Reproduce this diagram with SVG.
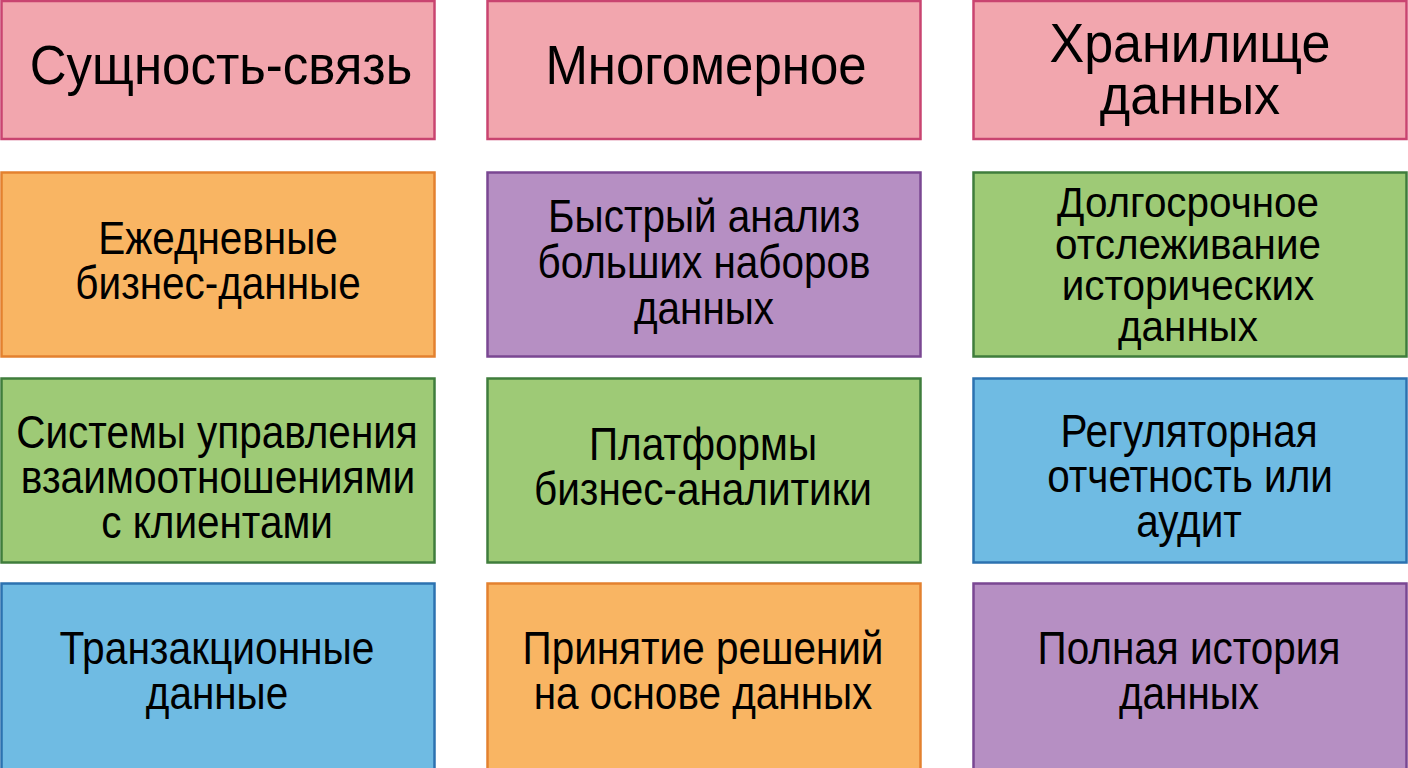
<svg xmlns="http://www.w3.org/2000/svg" width="1408" height="768" viewBox="0 0 1408 768">
<style>
rect{stroke-width:2.5}
.pink{fill:#F2A6AE;stroke:#C94470}
.orange{fill:#F9B563;stroke:#E3812F}
.purple{fill:#B68FC3;stroke:#7A4792}
.green{fill:#9ECA76;stroke:#3F7D3C}
.blue{fill:#6FBBE3;stroke:#2C72B0}
text{font-family:"Liberation Sans",Arial,sans-serif;fill:#000;text-anchor:middle}
.t{font-size:56px}
.b{font-size:46px}
.s{font-size:43px}
</style>
<rect width="1408" height="768" fill="#fff"/>
<g id="connectors"/>
<g id="n1"><rect class="pink" x="1.5" y="1" width="433" height="138"/>
<text class="t" transform="translate(221,84) scale(0.91,1)">Сущность-связь</text></g>
<g id="n2"><rect class="pink" x="487.5" y="1" width="433" height="138"/>
<text class="t" transform="translate(706,84) scale(0.91,1)">Многомерное</text></g>
<g id="n3"><rect class="pink" x="973.5" y="1" width="433" height="138"/>
<text class="t" transform="translate(1190,62) scale(0.93,1)">Хранилище</text>
<text class="t" transform="translate(1190,114) scale(0.93,1)">данных</text></g>

<g id="n4"><rect class="orange" x="1.5" y="172.5" width="433" height="184"/>
<text class="b" transform="translate(218,254) scale(0.88,1)">Ежедневные</text>
<text class="b" transform="translate(218,299) scale(0.88,1)">бизнес-данные</text></g>
<g id="n5"><rect class="purple" x="487.5" y="172.5" width="433" height="184"/>
<text class="b" transform="translate(704,232) scale(0.88,1)">Быстрый анализ</text>
<text class="b" transform="translate(704,278) scale(0.88,1)">больших наборов</text>
<text class="b" transform="translate(704,324) scale(0.88,1)">данных</text></g>
<g id="n6"><rect class="green" x="973.5" y="172.5" width="433" height="184"/>
<text class="s" transform="translate(1188,217) scale(0.94,1)">Долгосрочное</text>
<text class="s" transform="translate(1188,258.5) scale(0.94,1)">отслеживание</text>
<text class="s" transform="translate(1188,300) scale(0.94,1)">исторических</text>
<text class="s" transform="translate(1188,341) scale(0.94,1)">данных</text></g>

<g id="n7"><rect class="green" x="1.5" y="378.5" width="433" height="184"/>
<text class="b" transform="translate(217,448) scale(0.88,1)">Системы управления</text>
<text class="b" transform="translate(218,493) scale(0.885,1)">взаимоотношениями</text>
<text class="b" transform="translate(217,538) scale(0.88,1)">с клиентами</text></g>
<g id="n8"><rect class="green" x="487.5" y="378.5" width="433" height="184"/>
<text class="b" transform="translate(703,460) scale(0.88,1)">Платформы</text>
<text class="b" transform="translate(703,505) scale(0.88,1)">бизнес-аналитики</text></g>
<g id="n9"><rect class="blue" x="973.5" y="378.5" width="433" height="184"/>
<text class="b" transform="translate(1189,447) scale(0.88,1)">Регуляторная</text>
<text class="b" transform="translate(1190,492) scale(0.88,1)">отчетность или</text>
<text class="b" transform="translate(1189,537) scale(0.88,1)">аудит</text></g>

<g id="n10"><rect class="blue" x="1.5" y="583.5" width="433" height="186"/>
<text class="b" transform="translate(217,664) scale(0.885,1)">Транзакционные</text>
<text class="b" transform="translate(217,709) scale(0.88,1)">данные</text></g>
<g id="n11"><rect class="orange" x="487.5" y="583.5" width="433" height="186"/>
<text class="b" transform="translate(703,664) scale(0.88,1)">Принятие решений</text>
<text class="b" transform="translate(703,709) scale(0.88,1)">на основе данных</text></g>
<g id="n12"><rect class="purple" x="973.5" y="583.5" width="433" height="186"/>
<text class="b" transform="translate(1189,664) scale(0.88,1)">Полная история</text>
<text class="b" transform="translate(1189,709) scale(0.88,1)">данных</text></g>
</svg>
